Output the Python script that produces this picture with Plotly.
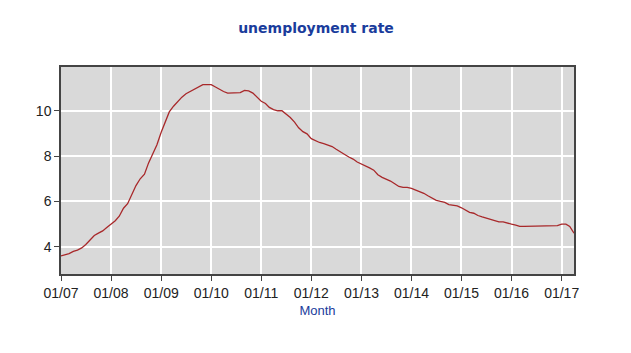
import plotly.graph_objects as go
import pandas as pd

start_month = "2007-01-01"
rate = [
    3.6, 3.65, 3.7, 3.8, 3.85, 3.95, 4.1, 4.3, 4.5, 4.6, 4.7, 4.85,
    5.0, 5.15, 5.35, 5.7, 5.9, 6.3, 6.7, 7.0, 7.2, 7.7, 8.1, 8.5,
    9.05, 9.5, 9.95, 10.2, 10.4, 10.6, 10.75, 10.85, 10.95, 11.05, 11.15, 11.15,
    11.15, 11.05, 10.95, 10.85, 10.78, 10.78, 10.78, 10.8, 10.9, 10.88, 10.78, 10.6,
    10.42, 10.32, 10.15, 10.05, 10.0, 10.0, 9.85, 9.7, 9.5, 9.25, 9.08, 8.98,
    8.77, 8.67, 8.6, 8.55, 8.5, 8.42, 8.3, 8.2, 8.07, 7.96, 7.87, 7.74,
    7.66, 7.56, 7.48, 7.38, 7.18, 7.06, 6.98, 6.9, 6.78, 6.66, 6.62, 6.62,
    6.58, 6.5, 6.46, 6.36, 6.25, 6.15, 6.05, 6.0, 5.96, 5.86, 5.84, 5.8,
    5.72, 5.6, 5.52, 5.48, 5.38, 5.32, 5.26, 5.2, 5.14, 5.1, 5.1, 5.04,
    5.0, 4.96, 4.9, 4.9, 4.9, 4.9, 4.9, 4.9, 4.9, 4.9, 4.9, 4.93,
    5.0, 5.0, 4.9, 4.6,
]
months = pd.date_range(start_month, periods=len(rate), freq="MS")
y_ticks = [4, 6, 8, 10]

blue = "#1a3c9c"
tick_font = dict(family="Liberation Sans, Arial, sans-serif", size=14, color="#222222")

fig = go.Figure(go.Scatter(
    x=months, y=rate, mode="lines",
    line=dict(color="#a8282a", width=1.3),
    hoverinfo="x+y",
))

fig.update_layout(
    width=631, height=353,
    margin=dict(l=61, r=57, t=67, b=79),
    paper_bgcolor="white",
    plot_bgcolor="#d9d9d9",
    showlegend=False,
    title=dict(
        text="<b>unemployment rate</b>",
        x=316 / 631, xanchor="center",
        y=1 - 28 / 353, yanchor="middle", yref="container",
        font=dict(family="DejaVu Sans, Verdana, sans-serif", size=14, color=blue),
    ),
    font=dict(family="Liberation Sans, Arial, sans-serif", size=12, color="#333333"),
)

fig.update_xaxes(
    range=[months[0], months[-1]],
    tickformat="%m/%y", dtick="M12", tick0=start_month,
    showgrid=True, gridcolor="white", gridwidth=1.5,
    showline=True, mirror=True, linecolor="#444444", linewidth=1.5,
    ticks="outside", ticklen=5, tickcolor="#444444",
    tickfont=tick_font,
    title=dict(text="Month",
               font=dict(family="Liberation Sans, Arial, sans-serif", size=13, color=blue),
               standoff=6),
    zeroline=False,
)
fig.update_yaxes(
    range=[2.8, 11.93],
    tickvals=y_ticks,
    showgrid=True, gridcolor="white", gridwidth=1.5,
    showline=True, mirror=True, linecolor="#444444", linewidth=1.5,
    ticks="outside", ticklen=5, tickcolor="#444444",
    tickfont=tick_font,
    zeroline=False,
)

fig.write_html("out.html")
